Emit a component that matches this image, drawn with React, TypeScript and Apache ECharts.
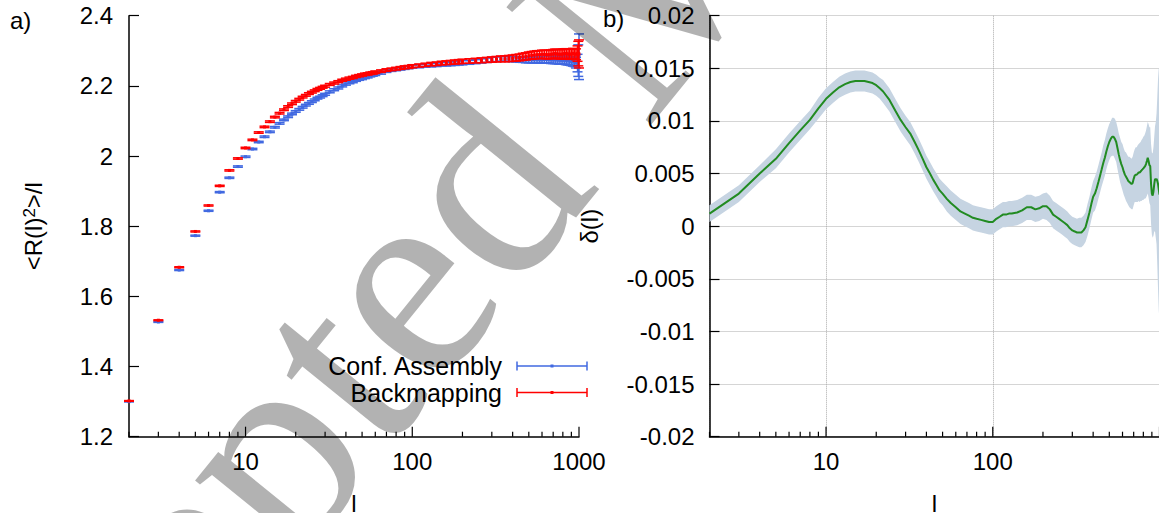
import React, { useEffect, useRef } from 'react';
import * as echarts from 'echarts';

const FONT = '"Liberation Sans", Arial, Helvetica, sans-serif';
const SERIF = '"Liberation Serif", "Times New Roman", serif';

// ---------- Panel a data ----------
const lA = [
  2, 3, 4, 5, 6, 7, 8, 9, 10, 11, 12, 13, 14, 15, 16, 17, 18, 19, 20, 21, 22, 23, 24, 25, 26, 27, 28, 29, 30,
  32, 34, 36, 38, 40, 42, 44, 46, 48, 50, 52, 54, 56, 58, 60,
  65, 70, 75, 80, 85, 90, 95, 100,
  110, 120, 130, 140, 150, 160, 170, 180, 190, 200,
  220, 240, 260, 280, 300, 320, 340, 360, 380, 400, 420, 440, 460, 480, 500, 520, 540, 560, 580, 600,
  620, 640, 660, 680, 700, 720, 740, 760, 780, 800, 820, 840, 860, 880, 900, 920, 940, 960, 980,
  990, 1000,
];
const backmapping = [
  1.302, 1.532, 1.683, 1.785, 1.859, 1.915, 1.959, 1.993, 2.023, 2.046, 2.067, 2.083, 2.098, 2.111, 2.122, 2.132, 2.141, 2.149, 2.156, 2.162, 2.168, 2.173, 2.178, 2.182, 2.186, 2.19, 2.193, 2.196, 2.199,
  2.204, 2.208, 2.212, 2.216, 2.219, 2.222, 2.224, 2.227, 2.229, 2.231, 2.233, 2.234, 2.236, 2.237, 2.239,
  2.242, 2.245, 2.247, 2.249, 2.251, 2.253, 2.254, 2.256,
  2.258, 2.26, 2.262, 2.263, 2.265, 2.266, 2.267, 2.268, 2.269, 2.27,
  2.271, 2.272, 2.273, 2.274, 2.275, 2.276, 2.277, 2.277, 2.278, 2.279, 2.28, 2.281, 2.283, 2.284, 2.286, 2.287, 2.288, 2.289, 2.289, 2.29,
  2.29, 2.289, 2.289, 2.29, 2.291, 2.292, 2.291, 2.29, 2.29, 2.291, 2.292, 2.292, 2.291, 2.29, 2.291, 2.292, 2.291, 2.29, 2.292,
  2.292, 2.291,
];
const backmappingErr = [
  0.001, 0.0012, 0.0014, 0.0015, 0.0016, 0.0017, 0.0018, 0.0019, 0.002, 0.002, 0.002, 0.0021, 0.0021, 0.0022, 0.0022, 0.0022, 0.0023, 0.0023, 0.0023, 0.0024, 0.0024, 0.0024, 0.0025, 0.0025, 0.0025, 0.0026, 0.0026, 0.0026, 0.0027,
  0.0027, 0.0028, 0.0028, 0.0029, 0.003, 0.003, 0.0031, 0.0031, 0.0032, 0.0032, 0.0033, 0.0033, 0.0034, 0.0034, 0.0035,
  0.0036, 0.0037, 0.0038, 0.0039, 0.004, 0.0041, 0.0042, 0.0043,
  0.0045, 0.0047, 0.0049, 0.005, 0.0052, 0.0054, 0.0055, 0.0057, 0.0058, 0.006,
  0.0063, 0.0066, 0.0069, 0.0072, 0.0075, 0.0078, 0.0081, 0.0084, 0.0087, 0.009, 0.0093, 0.0096, 0.0099, 0.0102, 0.0105, 0.0108, 0.011, 0.0112, 0.0114, 0.0116,
  0.0118, 0.012, 0.0122, 0.0124, 0.0126, 0.0128, 0.013, 0.0132, 0.0134, 0.0136, 0.0138, 0.014, 0.0142, 0.0144, 0.0146, 0.0148, 0.015, 0.0155, 0.022,
  0.035, 0.04,
];
const confAssembly = [
  1.3, 1.527, 1.675, 1.773, 1.844, 1.897, 1.938, 1.97, 1.998, 2.02, 2.04, 2.055, 2.069, 2.082, 2.093, 2.103, 2.112, 2.12, 2.127, 2.133, 2.139, 2.145, 2.15, 2.155, 2.16, 2.165, 2.168, 2.172, 2.176,
  2.183, 2.189, 2.194, 2.2, 2.205, 2.209, 2.212, 2.216, 2.219, 2.221, 2.224, 2.226, 2.229, 2.231, 2.233,
  2.237, 2.242, 2.245, 2.247, 2.249, 2.251, 2.253, 2.255,
  2.256, 2.258, 2.259, 2.26, 2.262, 2.262, 2.263, 2.264, 2.265, 2.266,
  2.267, 2.269, 2.271, 2.273, 2.275, 2.276, 2.277, 2.277, 2.277, 2.276, 2.276, 2.275, 2.275, 2.274, 2.274, 2.274, 2.274, 2.274, 2.274, 2.274,
  2.275, 2.275, 2.275, 2.274, 2.274, 2.274, 2.274, 2.273, 2.273, 2.273, 2.273, 2.272, 2.272, 2.271, 2.27, 2.269, 2.268, 2.266, 2.265,
  2.272, 2.283,
];
const confAssemblyErr = [
  0.001, 0.0012, 0.0014, 0.0015, 0.0016, 0.0017, 0.0018, 0.0019, 0.002, 0.002, 0.002, 0.0021, 0.0021, 0.0022, 0.0022, 0.0022, 0.0023, 0.0023, 0.0023, 0.0024, 0.0024, 0.0024, 0.0025, 0.0025, 0.0025, 0.0026, 0.0026, 0.0026, 0.0027,
  0.0027, 0.0028, 0.0028, 0.0029, 0.003, 0.003, 0.0031, 0.0031, 0.0032, 0.0032, 0.0033, 0.0033, 0.0034, 0.0034, 0.0035,
  0.0036, 0.0037, 0.0038, 0.0039, 0.004, 0.0041, 0.0042, 0.0043,
  0.0045, 0.0047, 0.0049, 0.005, 0.0052, 0.0054, 0.0055, 0.0057, 0.0058, 0.006,
  0.0055, 0.0058, 0.006, 0.0062, 0.0064, 0.0066, 0.0068, 0.007, 0.0072, 0.0074, 0.0076, 0.0078, 0.008, 0.0082, 0.0084, 0.0086, 0.0088, 0.009, 0.0092, 0.0094,
  0.0096, 0.0098, 0.01, 0.0102, 0.0104, 0.0106, 0.0108, 0.011, 0.0112, 0.0114, 0.0116, 0.0118, 0.012, 0.0122, 0.0124, 0.0126, 0.013, 0.015, 0.025,
  0.045, 0.065,
];

// ---------- Panel b data ----------
const lB = [
  2, 3, 4, 5, 6, 7, 8, 9, 10, 11, 12, 13, 14, 15, 16, 17, 18, 19, 20, 21,
  22, 24, 26, 28, 30, 32, 34, 36, 38, 40, 42, 44, 46, 48, 50,
  53, 56, 60, 64, 68, 72, 76, 80, 85, 90, 95, 100,
  105, 110, 115, 120, 125, 130, 140, 150, 160, 170, 180, 190, 200,
  210, 220, 230, 240, 250, 260, 270, 280, 290, 300,
  310, 320, 330, 340, 350, 360, 370, 380, 390, 400,
  410, 420, 430, 440, 450, 460, 470, 480, 490, 500,
  510, 520, 530, 540, 550, 560, 570, 580, 590, 600,
  610, 620, 630, 640, 650, 660, 670, 680, 690, 700,
  710, 720, 730, 740, 750, 760, 770, 780, 790, 800,
  810, 820, 830, 840, 850, 860, 870, 880, 890, 900,
  910, 920, 930, 940, 950, 960, 970, 980, 990, 1000,
];
const deltaB = [
  0.0012, 0.0031, 0.005, 0.0064, 0.0079, 0.0091, 0.0101, 0.0112, 0.0121, 0.0127, 0.0132, 0.0135, 0.0137, 0.0138, 0.0138, 0.0138, 0.0137, 0.0136, 0.0134, 0.0131,
  0.0128, 0.012, 0.011, 0.0101, 0.0094, 0.0088, 0.008, 0.0072, 0.0064, 0.0056, 0.005, 0.0044, 0.0039, 0.0034, 0.0031,
  0.0026, 0.0022, 0.0018, 0.0014, 0.0012, 0.001, 0.0008, 0.0007, 0.0006, 0.0005, 0.0004, 0.0004,
  0.0007, 0.0009, 0.0011, 0.0011, 0.0012, 0.0012, 0.0013, 0.0015, 0.0018, 0.0018, 0.0016, 0.0017, 0.0019,
  0.0019, 0.0016, 0.0011, 0.0009, 0.0007, 0.0005, 0.0003, 0.0001, -0.0002, -0.0004,
  -0.0005, -0.0006, -0.0006, -0.0006, -0.0004, -0.0001, 0.0006, 0.0013, 0.0021, 0.0028,
  0.0031, 0.0036, 0.0042, 0.0048, 0.0054, 0.006, 0.0065, 0.0071, 0.0076, 0.008,
  0.0083, 0.0085, 0.0085, 0.0083, 0.008, 0.0074, 0.0068, 0.0063, 0.0059, 0.0056,
  0.0052, 0.0049, 0.0047, 0.0045, 0.0043, 0.0042, 0.0041, 0.004, 0.0041, 0.0045,
  0.0048, 0.0049, 0.0049, 0.005, 0.0051, 0.0051, 0.0052, 0.0053, 0.0054, 0.0055,
  0.0056, 0.0057, 0.0059, 0.0062, 0.0065, 0.0062, 0.0058, 0.0057, 0.004, 0.0031,
  0.0029, 0.0033, 0.004, 0.0045, 0.0044, 0.0045, 0.0043, 0.004, 0.0035, 0.003,
];
const deltaErrB = [
  0.0008, 0.0008, 0.0008, 0.0009, 0.0009, 0.0009, 0.0009, 0.001, 0.001, 0.001, 0.001, 0.001, 0.001, 0.001, 0.001, 0.001, 0.001, 0.001, 0.001, 0.001,
  0.0011, 0.0011, 0.0011, 0.0011, 0.0011, 0.0011, 0.0011, 0.0011, 0.0011, 0.0011, 0.0011, 0.0011, 0.0011, 0.0011, 0.0011,
  0.0012, 0.0012, 0.0012, 0.0012, 0.0012, 0.0012, 0.0012, 0.0012, 0.0012, 0.0012, 0.0012, 0.0012,
  0.0012, 0.0012, 0.0012, 0.0012, 0.0012, 0.0012, 0.0012, 0.0012, 0.0012, 0.0012, 0.0012, 0.0012, 0.0012,
  0.0013, 0.0013, 0.0013, 0.0013, 0.0013, 0.0013, 0.0013, 0.0013, 0.0013, 0.0013,
  0.0013, 0.0013, 0.0014, 0.0014, 0.0014, 0.0014, 0.0015, 0.0015, 0.0015, 0.0015,
  0.0016, 0.0016, 0.0016, 0.0016, 0.0016, 0.0017, 0.0017, 0.0017, 0.0017, 0.0017,
  0.0017, 0.0018, 0.0018, 0.0019, 0.0019, 0.002, 0.002, 0.0021, 0.0021, 0.0022,
  0.0022, 0.0022, 0.0023, 0.0023, 0.0023, 0.0024, 0.0024, 0.0024, 0.0025, 0.0025,
  0.0025, 0.0026, 0.0026, 0.0027, 0.0027, 0.0028, 0.0028, 0.0029, 0.0029, 0.003,
  0.003, 0.0031, 0.0032, 0.0033, 0.0034, 0.0035, 0.0036, 0.0037, 0.0038, 0.0039,
  0.004, 0.0042, 0.0045, 0.005, 0.0055, 0.0062, 0.008, 0.01, 0.0115, 0.012,
];

// ---------- Axis tick values ----------
const xTickValues = [2, 3, 4, 5, 6, 7, 8, 9, 10, 20, 30, 40, 50, 60, 70, 80, 90, 100, 200, 300, 400, 500, 600, 700, 800, 900, 1000];
const xLabelValuesA = [10, 100, 1000];
const xLabelValuesB = [10, 100];

const BLUE = '#4169e1';
const RED = '#ff0000';
const GREEN = '#228b22';
const BAND = '#c6d4e2';

function errorBarRenderer(color: string) {
  return (_params: any, api: any) => {
    const x = api.value(0);
    const y = api.value(1);
    const e = api.value(2);
    const c = api.coord([x, y]);
    const lo = api.coord([x, y - e]);
    const hi = api.coord([x, y + e]);
    const hw = 5;
    const st = { stroke: color, lineWidth: 1.5 };
    return {
      type: 'group',
      children: [
        { type: 'line', shape: { x1: c[0], y1: lo[1], x2: c[0], y2: hi[1] }, style: st },
        { type: 'line', shape: { x1: c[0] - hw, y1: lo[1], x2: c[0] + hw, y2: lo[1] }, style: st },
        { type: 'line', shape: { x1: c[0] - hw, y1: hi[1], x2: c[0] + hw, y2: hi[1] }, style: st },
        { type: 'rect', shape: { x: c[0] - 1.5, y: c[1] - 1.5, width: 3, height: 3 }, style: { fill: color } },
      ],
    };
  };
}

function tickRenderer(_params: any, api: any) {
  const v = api.value(0);
  const p = api.coord([v, api.value(1)]);
  const lg = Math.log10(v);
  const major = Math.abs(lg - Math.round(lg)) < 1e-9;
  const len = major ? 10 : 5;
  return {
    type: 'line',
    shape: { x1: p[0], y1: p[1], x2: p[0], y2: p[1] - len },
    style: { stroke: '#000', lineWidth: 1.2 },
  };
}

function bandRenderer(_params: any, api: any) {
  const upper = lB.map((l, i) => api.coord([l, deltaB[i] + deltaErrB[i]]));
  const lower = lB.map((l, i) => api.coord([l, deltaB[i] - deltaErrB[i]])).reverse();
  return {
    type: 'polygon',
    shape: { points: upper.concat(lower) },
    style: { fill: BAND },
  };
}

const makeFormatter = (vals: number[]) => (v: number) => {
  const r = Math.round(v);
  return vals.includes(r) ? String(r) : '';
};

function makeXAxis(gridIndex: number, showGrid: boolean, labels: number[]) {
  return {
    type: 'log',
    logBase: 10,
    gridIndex,
    min: 2,
    max: 1000,
    axisLine: { show: true, onZero: false, lineStyle: { color: '#000', width: 1.5 } },
    axisTick: { show: false },
    axisLabel: { formatter: makeFormatter(labels), color: '#000', fontSize: 24, fontFamily: FONT, margin: 13, showMinLabel: false },
    splitLine: { show: showGrid, lineStyle: { type: 'dotted', color: '#aaaaaa', width: 1 } },
    minorTick: { show: false },
    name: 'l',
    nameLocation: 'middle',
    nameGap: 55,
    nameTextStyle: { color: '#000', fontSize: 24, fontFamily: FONT },
  };
}

const option: any = {
  animation: false,
  backgroundColor: '#ffffff',
  grid: [
    { left: 129, top: 15.7, width: 450, height: 421, outerBoundsMode: 'none', containLabel: false },
    { left: 709.5, top: 15.7, width: 450, height: 421, outerBoundsMode: 'none', containLabel: false },
  ],
  xAxis: [makeXAxis(0, false, xLabelValuesA), makeXAxis(1, true, xLabelValuesB)],
  yAxis: [
    {
      type: 'value',
      gridIndex: 0,
      min: 1.2,
      max: 2.4,
      interval: 0.2,
      axisLine: { show: true, lineStyle: { color: '#000', width: 1.5 } },
      axisTick: { show: true, inside: true, length: 10, lineStyle: { color: '#000', width: 1.2 } },
      axisLabel: { color: '#000', fontSize: 24, fontFamily: FONT, margin: 16 },
      splitLine: { show: false },
      name: '<R(l){sup|2}>/l',
      nameLocation: 'middle',
      nameRotate: 90,
      nameGap: 84,
      nameTextStyle: {
        color: '#000',
        fontSize: 24,
        fontFamily: FONT,
        rich: { sup: { fontSize: 17, fontFamily: FONT, color: '#000', verticalAlign: 'top', lineHeight: 14 } },
      },
    },
    {
      type: 'value',
      gridIndex: 1,
      min: -0.02,
      max: 0.02,
      interval: 0.005,
      axisLine: { show: true, lineStyle: { color: '#000', width: 1.5 } },
      axisTick: { show: true, inside: true, length: 10, lineStyle: { color: '#000', width: 1.2 } },
      axisLabel: { color: '#000', fontSize: 24, fontFamily: FONT, margin: 15 },
      splitLine: { show: true, lineStyle: { type: 'dotted', color: '#aaaaaa', width: 1 } },
      name: 'δ(l)',
      nameLocation: 'middle',
      nameRotate: 90,
      nameGap: 108,
      nameTextStyle: { color: '#000', fontSize: 24, fontFamily: FONT },
    },
  ],
  series: [
    {
      type: 'custom',
      name: 'ticksA',
      xAxisIndex: 0,
      yAxisIndex: 0,
      data: xTickValues.map((v) => [v, 1.2]),
      renderItem: tickRenderer,
      silent: true,
      z: 5,
    },
    {
      type: 'custom',
      name: 'ticksB',
      xAxisIndex: 1,
      yAxisIndex: 1,
      data: xTickValues.map((v) => [v, -0.02]),
      renderItem: tickRenderer,
      silent: true,
      z: 5,
    },
    {
      type: 'custom',
      name: 'Conf. Assembly',
      xAxisIndex: 0,
      yAxisIndex: 0,
      dimensions: ['l', 'v', 'err'],
      encode: { x: 0, y: 1 },
      data: lA.map((l, i) => [l, confAssembly[i], confAssemblyErr[i]]),
      renderItem: errorBarRenderer(BLUE),
      z: 2,
    },
    {
      type: 'custom',
      name: 'Backmapping',
      xAxisIndex: 0,
      yAxisIndex: 0,
      dimensions: ['l', 'v', 'err'],
      encode: { x: 0, y: 1 },
      data: lA.map((l, i) => [l, backmapping[i], backmappingErr[i]]),
      renderItem: errorBarRenderer(RED),
      z: 3,
    },
    {
      type: 'custom',
      name: 'band',
      xAxisIndex: 1,
      yAxisIndex: 1,
      data: [[lB[0], deltaB[0]]],
      renderItem: bandRenderer,
      clip: true,
      silent: true,
      z: 1,
    },
    {
      type: 'line',
      name: 'delta',
      xAxisIndex: 1,
      yAxisIndex: 1,
      data: lB.map((l, i) => [l, deltaB[i]]),
      showSymbol: false,
      symbol: 'none',
      lineStyle: { color: GREEN, width: 2 },
      z: 3,
    },
  ],
  graphic: [
    { type: 'text', x: 10, y: 8, style: { text: 'a)', fontSize: 24, fontFamily: FONT, fill: '#000' } },
    { type: 'text', x: 603, y: 6, style: { text: 'b)', fontSize: 24, fontFamily: FONT, fill: '#000' } },
    // legend
    { type: 'text', x: 502, y: 366, style: { text: 'Conf. Assembly', fontSize: 25, fontFamily: FONT, fill: '#000', align: 'right', verticalAlign: 'middle' } },
    { type: 'text', x: 502, y: 393, style: { text: 'Backmapping', fontSize: 25, fontFamily: FONT, fill: '#000', align: 'right', verticalAlign: 'middle' } },
    { type: 'line', shape: { x1: 517, y1: 366, x2: 587, y2: 366 }, style: { stroke: BLUE, lineWidth: 1.5 } },
    { type: 'line', shape: { x1: 517, y1: 361.5, x2: 517, y2: 370.5 }, style: { stroke: BLUE, lineWidth: 1.5 } },
    { type: 'line', shape: { x1: 587, y1: 361.5, x2: 587, y2: 370.5 }, style: { stroke: BLUE, lineWidth: 1.5 } },
    { type: 'rect', shape: { x: 550.5, y: 364.5, width: 3, height: 3 }, style: { fill: BLUE } },
    { type: 'line', shape: { x1: 517, y1: 392.5, x2: 587, y2: 392.5 }, style: { stroke: RED, lineWidth: 1.5 } },
    { type: 'line', shape: { x1: 517, y1: 388, x2: 517, y2: 397 }, style: { stroke: RED, lineWidth: 1.5 } },
    { type: 'line', shape: { x1: 587, y1: 388, x2: 587, y2: 397 }, style: { stroke: RED, lineWidth: 1.5 } },
    { type: 'rect', shape: { x: 550.5, y: 391, width: 3, height: 3 }, style: { fill: RED } },
    // watermark
    {
      type: 'text',
      x: -150,
      y: 962,
      rotation: (51 * Math.PI) / 180,
      silent: true,
      z: 100,
      style: { text: 'Accepted Manuscript', fontSize: 285, fontFamily: SERIF, fill: 'rgba(0,0,0,0.3)', align: 'left', verticalAlign: 'middle' },
    },
  ],
};

export default function App() {
  const ref = useRef<HTMLDivElement>(null);
  useEffect(() => {
    const chart = echarts.init(ref.current as HTMLDivElement, null, { renderer: 'svg' });
    chart.setOption(option);
    return () => chart.dispose();
  }, []);
  return (
    <div
      ref={ref}
      style={{ position: 'fixed', left: 0, top: 0, width: 1159, height: 513, background: '#fff' }}
    />
  );
}
